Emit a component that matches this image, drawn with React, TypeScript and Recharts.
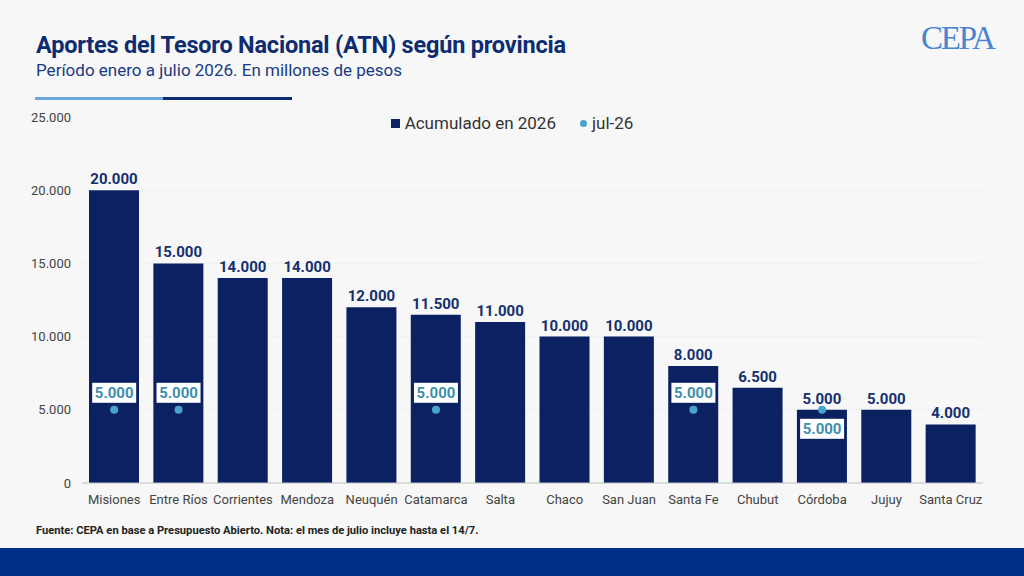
import React from "react";
import {
  ComposedChart,
  Bar,
  Line,
  XAxis,
  YAxis,
  CartesianGrid,
  LabelList,
} from "recharts";

// provincias y montos (millones de pesos)
const provincias = [
  "Misiones",
  "Entre Ríos",
  "Corrientes",
  "Mendoza",
  "Neuquén",
  "Catamarca",
  "Salta",
  "Chaco",
  "San Juan",
  "Santa Fe",
  "Chubut",
  "Córdoba",
  "Jujuy",
  "Santa Cruz",
];
const acumulado2026 = [
  20000, 15000, 14000, 14000, 12000, 11500, 11000, 10000, 10000, 8000, 6500,
  5000, 5000, 4000,
];
const jul26: (number | null)[] = [
  5000, 5000, null, null, null, 5000, null, null, null, 5000, null, 5000, null,
  null,
];
const yTicks = [0, 5000, 10000, 15000, 20000, 25000];

const NAVY = "#0b2161";
const TEAL = "#4aa3c9";
const BG = "#f6f7f6";

const fmt = (v: number) => v.toLocaleString("de-DE");

const data = provincias.map((p, i) => ({
  provincia: p,
  acumulado: acumulado2026[i],
  jul: jul26[i],
}));

const JulDot = (props: any) => {
  const { cx, cy, payload } = props;
  if (payload.jul == null) return null;
  return <circle cx={cx} cy={cy} r={4} fill={TEAL} />;
};

const JulLabel = (props: any) => {
  const { x, y, value, index } = props;
  if (value == null) return null;
  // si la barra termina justo en el punto, la etiqueta va abajo
  const below = acumulado2026[index] - value < 1500;
  const cy = below ? y + 19 : y - 17;
  const w = 44;
  const h = 20;
  return (
    <g>
      <rect x={x - w / 2} y={cy - h / 2} width={w} height={h} fill="#ffffff" />
      <text
        x={x}
        y={cy + 5}
        textAnchor="middle"
        fontSize={15}
        fontWeight={700}
        fill="#3f8fab"
      >
        {fmt(value)}
      </text>
    </g>
  );
};

export default function App() {
  return (
    <div
      style={{
        position: "fixed",
        left: 0,
        top: 0,
        width: 1024,
        height: 576,
        background: BG,
        fontFamily: "Roboto, sans-serif",
        overflow: "hidden",
      }}
    >
      <div
        style={{
          position: "absolute",
          left: 36,
          top: 31,
          fontSize: 23.5,
          fontWeight: 700,
          color: "#0e2c70",
          letterSpacing: -0.2,
          whiteSpace: "nowrap",
        }}
      >
        Aportes del Tesoro Nacional (ATN) según provincia
      </div>
      <div
        style={{
          position: "absolute",
          left: 36,
          top: 60,
          fontSize: 17,
          color: "#1b3a82",
          whiteSpace: "nowrap",
        }}
      >
        Período enero a julio 2026. En millones de pesos
      </div>
      <div
        style={{
          position: "absolute",
          left: 35,
          top: 97,
          width: 128,
          height: 3,
          background: "#6ba7da",
        }}
      />
      <div
        style={{
          position: "absolute",
          left: 163,
          top: 97,
          width: 129,
          height: 3,
          background: "#0e2c70",
        }}
      />
      <div
        style={{
          position: "absolute",
          left: 921,
          top: 20,
          fontSize: 33,
          fontFamily: "'Liberation Serif', serif",
          color: "#4a86cf",
          letterSpacing: -2.2,
        }}
      >
        CEPA
      </div>

      <div style={{ position: "absolute", left: 0, top: 0 }}>
        <ComposedChart
          width={1024}
          height={576}
          data={data}
          margin={{ top: 117, right: 41, bottom: 63, left: 0 }}
        >
          <CartesianGrid vertical={false} stroke="#eff1f0" />
          <XAxis
            dataKey="provincia"
            tickLine={false}
            axisLine={{ stroke: "#bfc3c3" }}
            tick={{ fontSize: 13, fill: "#444" }}
            tickMargin={6}
            interval={0}
          />
          <YAxis
            width={82}
            domain={[0, 25000]}
            ticks={yTicks}
            tickFormatter={fmt}
            tickLine={false}
            axisLine={false}
            tick={{ fontSize: 13, fill: "#444" }}
            tickMargin={5}
          />
          <Bar
            dataKey="acumulado"
            name="Acumulado en 2026"
            fill={NAVY}
            barSize={50}
            isAnimationActive={false}
          >
            <LabelList
              dataKey="acumulado"
              position="top"
              offset={6}
              formatter={(v: any) => fmt(v)}
              style={{ fontSize: 15, fontWeight: 700, fill: "#14306e" }}
            />
          </Bar>
          <Line
            dataKey="jul"
            name="jul-26"
            stroke="none"
            dot={<JulDot />}
            activeDot={false}
            isAnimationActive={false}
          >
            <LabelList dataKey="jul" content={<JulLabel />} />
          </Line>
        </ComposedChart>
      </div>

      {/* leyenda */}
      <div
        style={{
          position: "absolute",
          left: 0,
          top: 113,
          width: 1024,
          display: "flex",
          justifyContent: "center",
          alignItems: "center",
          gap: 24,
          fontSize: 17,
          color: "#333",
        }}
      >
        <span style={{ display: "flex", alignItems: "center", gap: 5 }}>
          <span
            style={{ width: 9, height: 9, background: NAVY, display: "inline-block" }}
          />
          Acumulado en 2026
        </span>
        <span style={{ display: "flex", alignItems: "center", gap: 5 }}>
          <span
            style={{
              width: 7,
              height: 7,
              borderRadius: 4,
              background: TEAL,
              display: "inline-block",
            }}
          />
          jul-26
        </span>
      </div>

      <div
        style={{
          position: "absolute",
          left: 36,
          top: 523,
          fontSize: 11.5,
          fontWeight: 700,
          color: "#222",
          transform: "scaleX(0.97)",
          transformOrigin: "left",
          whiteSpace: "nowrap",
        }}
      >
        Fuente: CEPA en base a Presupuesto Abierto. Nota: el mes de julio incluye
        hasta el 14/7.
      </div>
      <div
        style={{
          position: "absolute",
          left: 0,
          top: 548,
          width: 1024,
          height: 28,
          background: "#003087",
        }}
      />
    </div>
  );
}
